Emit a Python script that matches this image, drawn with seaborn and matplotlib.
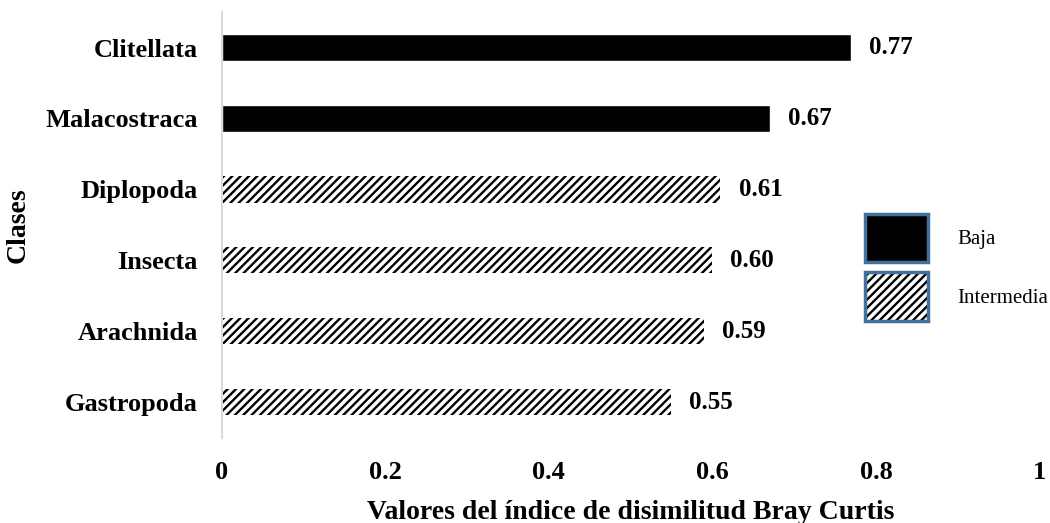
import pandas as pd
import matplotlib.pyplot as plt
import seaborn as sns
from matplotlib.patches import Patch

# Datos
clases = ["Clitellata", "Malacostraca", "Diplopoda", "Insecta", "Arachnida", "Gastropoda"]
valores = [0.77, 0.67, 0.61, 0.60, 0.59, 0.55]
grupo = ["Baja", "Baja", "Intermedia", "Intermedia", "Intermedia", "Intermedia"]
xticks = [0, 0.2, 0.4, 0.6, 0.8, 1]
xtick_labels = ["0", "0.2", "0.4", "0.6", "0.8", "1"]

data = pd.DataFrame({"Clase": clases, "Valor": valores, "Grupo": grupo})

sns.set_style("white")
plt.rcParams["font.family"] = ["Liberation Serif", "DejaVu Serif"]
plt.rcParams["hatch.linewidth"] = 1.7
for k in ["text.color", "axes.labelcolor", "xtick.color", "ytick.color"]:
    plt.rcParams[k] = "black"

fig = plt.figure(figsize=(10.5, 5.23), dpi=100)
ax = fig.add_axes([0.211, 0.163, 0.779, 0.814])

sns.barplot(data=data, x="Valor", y="Clase", hue="Grupo", dodge=False,
            palette={"Baja": "black", "Intermedia": "white"}, width=0.37,
            orient="h", legend=False, ax=ax)

for bar in ax.containers[1]:
    bar.set_hatch("////")
    bar.set_edgecolor("black")
    bar.set_linewidth(0)

for cont in ax.containers:
    ax.bar_label(cont, fmt="%.2f", padding=13, fontsize=18, fontweight="bold")

ax.set_xlim(0, 1)
ax.set_ylim(5.5, -0.5)
ax.set_xticks(xticks)
ax.set_xticklabels(xtick_labels, fontsize=19, fontweight="bold")
ax.tick_params(axis="x", length=0, pad=17)
ax.tick_params(axis="y", length=0, pad=17, labelsize=19)
for t in ax.get_yticklabels():
    t.set_fontweight("bold")

ax.set_xlabel("Valores del índice de disimilitud Bray Curtis", fontsize=20,
              fontweight="bold", labelpad=11)
ax.set_ylabel("Clases", fontsize=20, fontweight="bold", labelpad=11)

for s in ["top", "right", "bottom"]:
    ax.spines[s].set_visible(False)
ax.spines["left"].set_color("#d9d9d9")
ax.spines["left"].set_linewidth(1.5)

borde = "#41719C"
h_baja = Patch(facecolor="black", edgecolor=borde, linewidth=2.5)
h_inter = (Patch(facecolor="white", edgecolor="black", linewidth=0, hatch="////"),
           Patch(facecolor="none", edgecolor=borde, linewidth=2.5))
leg = ax.legend([h_baja, h_inter], ["Baja", "Intermedia"], loc="upper left",
                bbox_to_anchor=(0.764, 0.57), frameon=False, fontsize=15,
                handlelength=3.0, handleheight=3.18, handletextpad=1.4,
                labelspacing=0.5)

fig.savefig("out.png", dpi=100)
